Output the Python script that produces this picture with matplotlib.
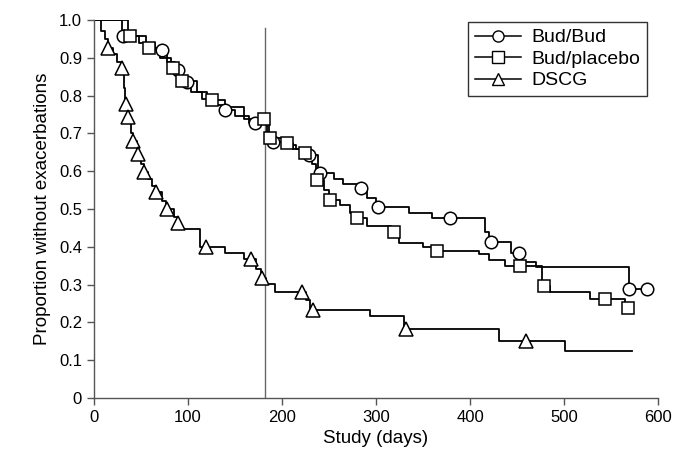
import matplotlib
matplotlib.use("Agg")
import matplotlib.pyplot as plt
import numpy as np

plt.rcParams['font.family'] = ['Liberation Sans', 'DejaVu Sans']

# Bud/Bud step curve (time, survival) and censor-marker times
budbud_t = [0, 30, 55, 65, 78, 86, 95, 103, 115, 130, 137, 150, 165, 184, 189, 205, 215, 226,
            238, 255, 265, 280, 290, 300, 335, 360, 416, 420, 444, 455, 470, 569]
budbud_s = [1.0, 0.958, 0.94, 0.921, 0.89, 0.869, 0.837, 0.81, 0.79, 0.775, 0.762, 0.745, 0.728,
            0.70, 0.677, 0.67, 0.66, 0.643, 0.594, 0.58, 0.567, 0.556, 0.53, 0.504, 0.49, 0.475,
            0.44, 0.413, 0.383, 0.36, 0.347, 0.288]
budbud_end = 588
budbud_marks = [31, 72, 90, 99, 139, 171, 190, 229, 241, 284, 302, 379, 422, 452, 569, 588]

# Bud/placebo
budpl_t = [0, 36, 48, 57, 70, 82, 92, 110, 120, 140, 160, 186, 200, 212, 222, 232, 236, 245, 250,
           262, 272, 279, 290, 316, 324, 350, 362, 410, 420, 437, 476, 485, 528, 565]
budpl_s = [1.0, 0.958, 0.94, 0.925, 0.90, 0.872, 0.839, 0.81, 0.788, 0.77, 0.738, 0.687, 0.675,
           0.66, 0.649, 0.62, 0.578, 0.55, 0.525, 0.51, 0.49, 0.475, 0.455, 0.44, 0.41, 0.40,
           0.389, 0.38, 0.365, 0.35, 0.295, 0.281, 0.261, 0.237]
budpl_end = 570
budpl_marks = [38, 59, 84, 94, 126, 181, 187, 205, 225, 237, 251, 280, 319, 365, 453, 479, 543, 568]

# DSCG
dscg_t = [0, 8, 12, 15, 20, 25, 29, 32, 33, 36, 40, 42, 46, 50, 53, 58, 62, 66, 72, 77, 85, 89,
          93, 113, 139, 160, 172, 178, 183, 193, 226, 230, 294, 330, 431, 501]
dscg_s = [1.0, 0.97, 0.95, 0.926, 0.91, 0.89, 0.874, 0.82, 0.777, 0.744, 0.70, 0.679, 0.645, 0.62,
          0.599, 0.58, 0.56, 0.546, 0.52, 0.499, 0.48, 0.464, 0.447, 0.40, 0.384, 0.368, 0.34,
          0.318, 0.302, 0.28, 0.26, 0.233, 0.217, 0.182, 0.150, 0.124]
dscg_end = 572
dscg_marks = [15, 30, 34, 36, 42, 47, 53, 66, 78, 90, 119, 167, 179, 221, 233, 332, 460]

cutoff_day = 182

series = [
    ("Bud/Bud", budbud_t, budbud_s, budbud_end, budbud_marks, "o"),
    ("Bud/placebo", budpl_t, budpl_s, budpl_end, budpl_marks, "s"),
    ("DSCG", dscg_t, dscg_s, dscg_end, dscg_marks, "^"),
]

fig = plt.figure(figsize=(6.75, 4.67), dpi=100)
ax = fig.add_axes([0.139, 0.148, 0.836, 0.809])

ax.plot([cutoff_day, cutoff_day], [0, 0.98], color="#666666", lw=1.0, zorder=1)

for name, t, s, end, marks, mk in series:
    t = np.array(t, float)
    s = np.array(s, float)
    tt = np.append(t, end)
    ss = np.append(s, s[-1])
    ax.step(tt, ss, where="post", color="black", lw=1.3, zorder=2)
    idx = np.searchsorted(t, np.array(marks, float), side="right") - 1
    ax.plot(marks, s[idx], linestyle="none", marker=mk, markersize=9 if mk != "^" else 9.5,
            markerfacecolor="white", markeredgecolor="black", markeredgewidth=1.1, zorder=3)
    ax.plot([], [], color="black", lw=1.1, marker=mk, markersize=8, markerfacecolor="white",
            markeredgecolor="black", label=name)

ax.set_xlim(0, 600)
ax.set_ylim(0, 1.0)
ax.set_xticks(np.arange(0, 601, 100))
ax.set_yticks(np.round(np.arange(0, 1.01, 0.1), 1))
ax.set_yticklabels(["0"] + [f"{v:.1f}" for v in np.arange(0.1, 1.01, 0.1)])
ax.spines["top"].set_visible(False)
ax.spines["right"].set_visible(False)
for sp in ("left", "bottom"):
    ax.spines[sp].set_color("#555555")
    ax.spines[sp].set_linewidth(1.0)
ax.tick_params(direction="out", length=5, width=1.0, color="#555555", labelsize=12)
ax.set_xlabel("Study (days)", fontsize=13.5, labelpad=4)
ax.set_ylabel("Proportion without exacerbations", fontsize=13.5, labelpad=6)

leg = ax.legend(loc="upper right", bbox_to_anchor=(0.98, 0.995), fontsize=14, frameon=True,
                fancybox=False, edgecolor="black", handlelength=2.4, handletextpad=0.5,
                borderpad=0.35, labelspacing=0.2, borderaxespad=0.0)
leg.get_frame().set_linewidth(1.0)

fig.savefig("out.png", dpi=100)
